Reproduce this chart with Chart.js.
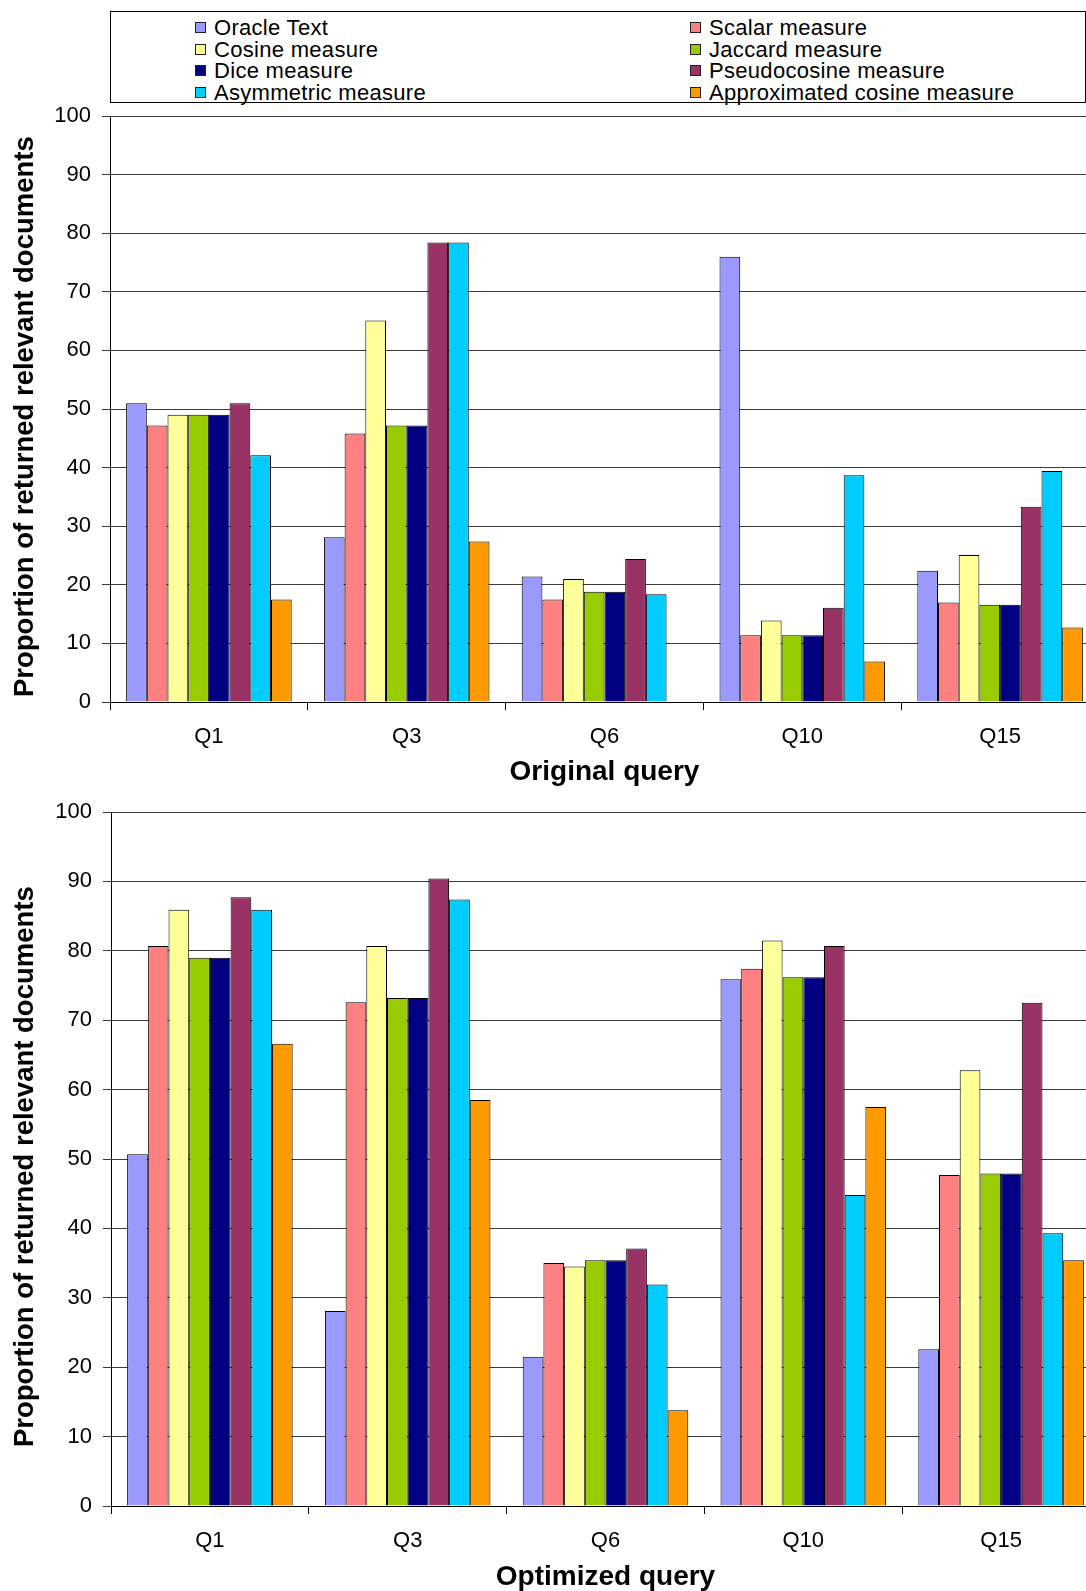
<!DOCTYPE html>
<html>
<head>
<meta charset="utf-8">
<script src="https://cdn.jsdelivr.net/npm/chart.js@4.4.1/dist/chart.umd.min.js"></script>
<style>
  html, body { margin: 0; padding: 0; background: #fff; overflow: hidden; width: 1086px; height: 1591px; }
  #legend { position: absolute; left: 110px; top: 11px; width: 976px; height: 92px; border: 1px solid #000;
            box-sizing: border-box; font-family: "Liberation Sans", Arial, sans-serif; font-size: 22px;
            letter-spacing: 0.3px; color: #000; }
  .item { position: absolute; height: 21px; line-height: 21px; white-space: nowrap; }
  .sw { position: absolute; left: 0; top: 5px; width: 11px; height: 11px; border: 1px solid #222; box-sizing: border-box; }
  .item .t { position: absolute; left: 19px; top: 0; }
  canvas { position: absolute; left: 0; }
  #topChart { top: 94px; }
  #bottomChart { top: 790px; }
</style>
</head>
<body>
<div id="legend"></div>
<canvas id="topChart" width="1099" height="695"></canvas>
<canvas id="bottomChart" width="1100" height="804"></canvas>
<script>
// Query groups on the x axis
const categories = ['Q1', 'Q3', 'Q6', 'Q10', 'Q15'];

// Similarity measures (series) and their fill colours
const seriesNames = ['Oracle Text', 'Scalar measure', 'Cosine measure', 'Jaccard measure',
                     'Dice measure', 'Pseudocosine measure', 'Asymmetric measure', 'Approximated cosine measure'];
const seriesColors = ['#9999FF', '#FF8080', '#FFFF99', '#99CC00', '#000080', '#993366', '#00CCFF', '#FF9900'];

// Proportion of returned relevant documents (%) - original query
const origOracle  = [51.0, 28.1, 21.4, 76.0, 22.4];
const origScalar  = [47.2, 45.8, 17.5, 11.4, 17.0];
const origCosine  = [49.0, 65.1, 21.0, 13.9, 25.1];
const origJaccard = [49.0, 47.2, 18.8, 11.4, 16.6];
const origDice    = [49.0, 47.2, 18.8, 11.4, 16.6];
const origPseudo  = [51.0, 78.4, 24.4, 16.1, 33.3];
const origAsym    = [42.1, 78.4, 18.4, 38.7, 39.4];
const origApprox  = [17.5, 27.4, 0.0, 6.9, 12.7];

// Proportion of returned relevant documents (%) - optimized query
const optOracle  = [50.7, 28.1, 21.5, 75.9, 22.6];
const optScalar  = [80.7, 72.6, 35.0, 77.4, 47.7];
const optCosine  = [85.9, 80.7, 34.5, 81.5, 62.8];
const optJaccard = [79.0, 73.2, 35.4, 76.2, 47.9];
const optDice    = [79.0, 73.2, 35.4, 76.2, 47.9];
const optPseudo  = [87.7, 90.4, 37.1, 80.7, 72.5];
const optAsym    = [85.9, 87.4, 31.9, 44.8, 39.3];
const optApprox  = [66.6, 58.5, 13.8, 57.5, 35.4];

// Trailing spaces nudge the rotated title slightly towards the axis origin
const yAxisTitle = 'Proportion of returned relevant documents  ';

// Shared legend box (two columns, row-major order)
const legendEl = document.getElementById('legend');
seriesNames.forEach((name, i) => {
  const row = Math.floor(i / 2), col = i % 2;
  const item = document.createElement('div');
  item.className = 'item';
  item.style.left = (col === 0 ? 84 : 579) + 'px';
  item.style.top = (5 + row * 21.5) + 'px';
  const sw = document.createElement('div');
  sw.className = 'sw';
  sw.style.background = seriesColors[i];
  const t = document.createElement('span');
  t.className = 't';
  t.textContent = name;
  item.appendChild(sw);
  item.appendChild(t);
  legendEl.appendChild(item);
});

const FONT = '"Liberation Sans", Arial, sans-serif';

function makeChart(id, values, xTitle, yWidth, xHeight, tickPad, titlePadBottom) {
  const datasets = values.map((v, i) => ({
    label: seriesNames[i],
    data: v,
    backgroundColor: seriesColors[i],
    borderColor: '#000',
    borderWidth: 1,
    barPercentage: 1.0,
    categoryPercentage: 0.837
  }));
  return new Chart(document.getElementById(id), {
    type: 'bar',
    data: { labels: categories, datasets },
    options: {
      responsive: false,
      animation: false,
      devicePixelRatio: 1,
      layout: { padding: { top: 12, left: 0, right: 0, bottom: 0 } },
      plugins: { legend: { display: false }, tooltip: { enabled: false } },
      scales: {
        x: {
          grid: { offset: true, drawOnChartArea: false, drawTicks: true, tickLength: 8, color: '#000' },
          border: { display: true, color: '#000', width: 1 },
          ticks: { color: '#000', padding: tickPad, font: { family: FONT, size: 22 } },
          title: { display: true, text: xTitle, color: '#000',
                   font: { family: FONT, size: 28, weight: 'bold' },
                   padding: { top: 0, bottom: titlePadBottom } },
          afterFit: (scale) => { scale.height = xHeight; }
        },
        y: {
          min: 0, max: 100,
          ticks: { stepSize: 10, color: '#000', padding: 11,
                   font: { family: FONT, size: 22, lineHeight: 1 } },
          grid: { color: '#3a3a3a', lineWidth: 1, drawTicks: true, tickLength: 8 },
          border: { display: true, color: '#000', width: 1 },
          title: { display: true, text: yAxisTitle, color: '#000',
                   font: { family: FONT, size: 27.5, weight: 'bold' },
                   padding: { top: 9, bottom: 0 } },
          afterFit: (scale) => { scale.width = yWidth; }
        }
      }
    }
  });
}

makeChart('topChart',
  [origOracle, origScalar, origCosine, origJaccard, origDice, origPseudo, origAsym, origApprox],
  'Original query', 110, 87, 14, 0);

makeChart('bottomChart',
  [optOracle, optScalar, optCosine, optJaccard, optDice, optPseudo, optAsym, optApprox],
  'Optimized query', 111, 88, 14, 0);
</script>
</body>
</html>
